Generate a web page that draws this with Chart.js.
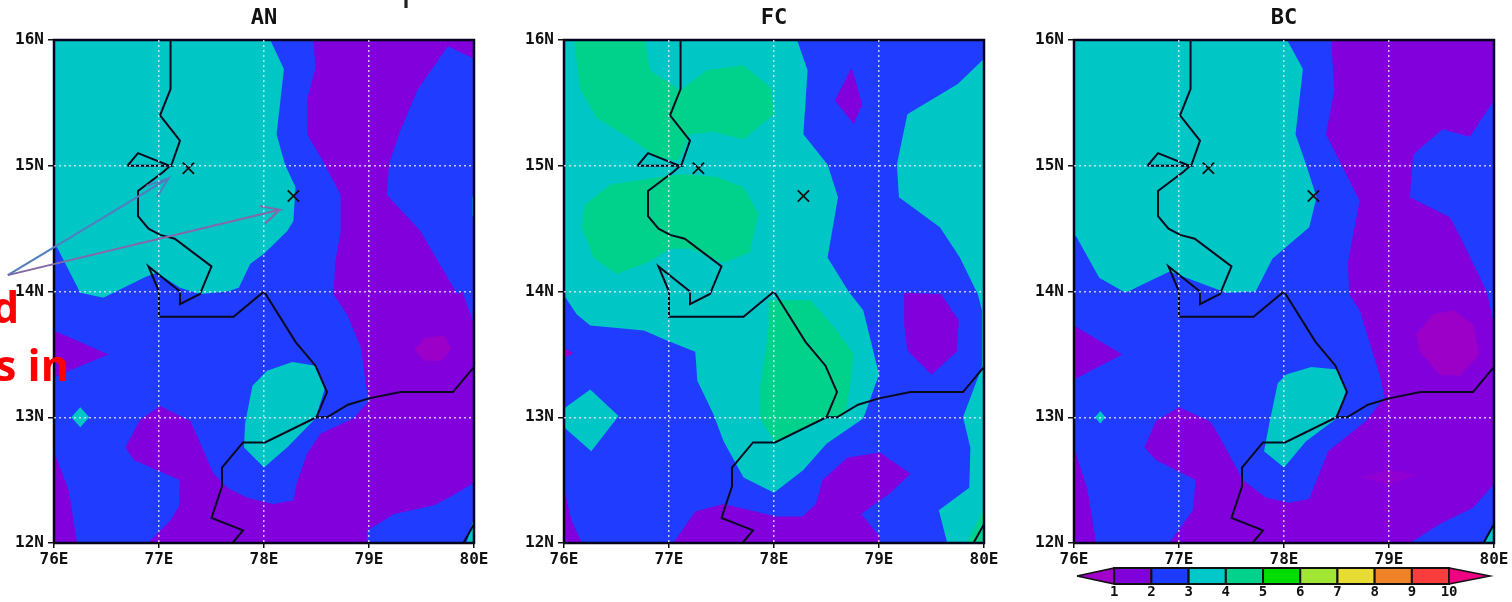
<!DOCTYPE html>
<html>
<head>
<meta charset="utf-8">
<title>AN FC BC</title>
<script src="https://cdn.jsdelivr.net/npm/chart.js@4"></script>
<style>
  html, body { margin: 0; padding: 0; background: #fff; width: 1512px; height: 602px; overflow: hidden; }
  canvas { position: absolute; top: 0; filter: blur(0.6px); }
  .txt { position: absolute; white-space: nowrap; }
  #tituloTop { left: 320px; top: -33px; font: 36px "Liberation Sans"; color: #222; filter: blur(0.6px); }
  .rojo { font: bold 43px "Open Sans"; color: #f00; line-height: 48px; }
</style>
</head>
<body>
<canvas id="panelAN" width="500" height="602" style="left:0"></canvas>
<canvas id="panelFC" width="500" height="602" style="left:510px"></canvas>
<canvas id="panelBC" width="492" height="602" style="left:1020px"></canvas>
<canvas id="barra" width="442" height="42" style="left:1070px;top:560px"></canvas>
<div class="txt" id="tituloTop">Precipitation</div>
<div class="txt rojo" style="left:-8px;top:283px">d</div>
<div class="txt rojo" style="left:-5px;top:341px">s in</div>
<script>
// Colores de la escala
const azul = '#1f3cff', purpura = '#8200dc', magenta = '#9c00c8', teal = '#00c6c6', verde = '#00d28c';

// Ejes
const lonTicks = [76, 77, 78, 79, 80];
const latTicks = [12, 13, 14, 15, 16];

// Estaciones (x)
const estaciones = [[77.28, 14.98], [78.28, 14.76]];

// Costas y fronteras, igual en los tres paneles
const frontera1 = [[77.11,16],[77.11,15.61],[77.01,15.4],[77.2,15.2],[77.12,15.01],[77.04,14.95],[76.8,14.8],[76.8,14.6],[76.9,14.5],[77.01,14.45],[77.15,14.42],[77.5,14.2],[77.39,13.98],[77.2,13.9],[77.2,14],[76.9,14.2],[77,14],[77,13.8],[77.71,13.8],[78,14],[78.3,13.6],[78.49,13.41],[78.6,13.2],[78.5,13],[78.01,12.8],[77.8,12.8],[77.6,12.6],[77.6,12.45],[77.5,12.2],[77.8,12.1],[77.7,12]];
const frontera2 = [[76.7,15],[76.8,15.1],[77.1,15],[76.7,15]];
const frontera3 = [[78.5,13],[78.6,13],[78.8,13.1],[79,13.15],[79.3,13.2],[79.8,13.2],[80,13.4]];
const frontera4 = [[80,12.15],[79.9,12]];

// Flechas del panel AN
const flecha1 = [[75.56,14.13],[77.09,14.9],[76.98,14.75],[77.09,14.9],[76.88,14.84]];
const flecha2 = [[75.56,14.13],[78.15,14.65],[77.96,14.68],[78.15,14.65],[78.01,14.54]];

// Panel AN
const anPurpura = [[78.47,16],[78.49,15.78],[78.41,15.52],[78.41,15.25],[78.54,15.07],[78.73,14.77],[78.73,14.48],[78.68,14.24],[78.66,13.98],[78.79,13.82],[78.92,13.56],[78.98,13.21],[79.01,13.14],[78.85,12.99],[78.54,12.87],[78.41,12.71],[78.31,12.47],[78.28,12.34],[78.09,12.31],[77.84,12.36],[77.65,12.44],[77.52,12.55],[77.3,12.97],[77.01,13.09],[76.82,12.98],[76.68,12.76],[76.76,12.66],[77.2,12.5],[77.19,12.29],[77.11,12.18],[76.92,12.02],[76.88,12],[78.98,12],[78.98,12.1],[79.24,12.23],[79.62,12.3],[79.78,12.37],[80,12.48],[80,13.74],[79.89,14],[79.84,13.98],[79.49,14.48],[79.17,14.77],[79.19,15.01],[79.3,15.28],[79.46,15.6],[79.75,15.95],[80,15.85],[80,16]];
const anPurpuraIzq1 = [[76,13.69],[76.52,13.5],[76,13.32]];
const anPurpuraIzq2 = [[76,12.73],[76.14,12.42],[76.22,12],[76,12]];
const anMagenta = [[79.43,13.54],[79.53,13.63],[79.72,13.65],[79.78,13.54],[79.69,13.45],[79.53,13.45]];
const anTeal1 = [[78.06,16],[78.19,15.77],[78.12,15.25],[78.2,15.01],[78.3,14.83],[78.28,14.56],[78.22,14.48],[78,14.3],[77.87,14.22],[77.76,14.03],[77.65,14],[77.39,13.98],[77.2,14.03],[76.98,14.15],[76.88,14.12],[76.47,13.95],[76.25,13.99],[76.03,14.35],[76,14.36],[76,16]];
const anTeal2 = [[78.27,13.44],[78.49,13.41],[78.58,13.23],[78.49,12.99],[78.22,12.76],[78,12.6],[77.81,12.76],[77.82,12.95],[77.89,13.25],[78.03,13.37]];
const anTeal3 = [[76.25,13.08],[76.335,13],[76.25,12.92],[76.165,13]];
const anTeal4 = [[80,12.2],[79.93,12],[80,12]];
const anTeal5 = [[80,14.78],[79.985,14.75],[79.985,14.6],[80,14.58]];

// Panel FC
const fcTeal1 = [[76,16],[78.22,16],[78.32,15.76],[78.28,15.25],[78.51,15.01],[78.61,14.75],[78.51,14.27],[78.71,14],[78.85,13.85],[79,13.34],[78.85,12.99],[78.5,12.79],[78.28,12.58],[78,12.4],[77.71,12.52],[77.52,12.81],[77.42,13.03],[77.27,13.29],[77.25,13.52],[76.98,13.61],[76.76,13.69],[76.25,13.73],[76.12,13.82],[76,13.97]];
const fcTeal2 = [[80,15.85],[79.75,15.65],[79.27,15.41],[79.17,15.01],[79.19,14.75],[79.58,14.51],[79.77,14.27],[79.94,13.98],[79.98,13.85],[79.98,13.4],[79.8,13],[79.87,12.76],[79.86,12.44],[79.57,12.26],[79.65,12],[80,12]];
const fcTeal3 = [[76.25,13.22],[76.52,13.01],[76.26,12.73],[76,12.92],[76,13.07]];
const fcVerde1 = [[76.1,16],[76.77,16],[76.82,15.76],[77.11,15.6],[77.36,15.76],[77.71,15.8],[77.97,15.62],[78,15.41],[77.71,15.21],[77.42,15.27],[77.2,15.25],[77.09,15.04],[76.88,15.07],[76.66,15.2],[76.31,15.38],[76.15,15.62]];
const fcVerde2 = [[77.08,14.93],[76.44,14.85],[76.2,14.69],[76.17,14.51],[76.28,14.27],[76.5,14.14],[76.82,14.24],[77.01,14.34],[77.2,14.34],[77.52,14.23],[77.77,14.31],[77.85,14.62],[77.71,14.83],[77.46,14.91],[77.2,14.93]];
const fcVerde3 = [[77.95,13.93],[78.35,13.93],[78.6,13.69],[78.76,13.5],[78.7,13.1],[78.66,13.01],[78.5,13],[78.01,12.8],[77.87,12.99],[77.87,13.24],[77.95,13.72]];
const fcVerde4 = [[80,12.28],[79.84,12],[80,12]];
const fcPurpura1 = [[78.74,15.78],[78.84,15.49],[78.76,15.33],[78.58,15.52]];
const fcPurpura2 = [[79.24,13.99],[79.59,13.98],[79.76,13.77],[79.74,13.52],[79.5,13.34],[79.27,13.53],[79.24,13.74]];
const fcPurpura3 = [[77.04,12],[77.25,12.25],[77.52,12.31],[78.02,12.21],[78.27,12.21],[78.4,12.31],[78.46,12.5],[78.7,12.68],[79.01,12.72],[79.3,12.55],[79.11,12.4],[78.83,12.23],[79.01,12.05],[79.01,12]];
const fcPurpura4 = [[76,12.44],[76.07,12.18],[76.17,12],[76,12]];
const fcMagenta = [[76,13.55],[76.09,13.51],[76,13.47]];

// Panel BC
const bcPurpura = [[78.45,16],[78.48,15.6],[78.4,15.25],[78.72,14.72],[78.61,14.24],[78.62,13.98],[78.72,13.85],[78.91,13.34],[78.96,13.16],[78.78,12.97],[78.42,12.73],[78.24,12.35],[78.05,12.32],[77.83,12.36],[77.61,12.5],[77.35,12.9],[77.29,12.97],[77,13.08],[76.78,12.97],[76.67,12.76],[76.78,12.66],[77.16,12.5],[77.13,12.26],[76.91,12],[79.2,12],[79.48,12.15],[79.8,12.28],[80,12.47],[80,13.74],[79.93,14],[79.7,14.4],[79.58,14.59],[79.2,14.75],[79.23,15.09],[79.51,15.29],[79.77,15.23],[80,15.52],[80,16]];
const bcPurpuraIzq1 = [[76,13.73],[76.46,13.5],[76,13.3]];
const bcPurpuraIzq2 = [[76,12.76],[76.13,12.42],[76.21,12],[76,12]];
const bcMagenta1 = [[79.26,13.66],[79.42,13.82],[79.61,13.85],[79.8,13.74],[79.86,13.5],[79.67,13.33],[79.48,13.34],[79.29,13.53]];
const bcMagenta2 = [[78.72,12.52],[79,12.58],[79.27,12.54],[79,12.47]];
const bcTeal1 = [[78.03,16],[78.18,15.77],[78.11,15.25],[78.21,15.01],[78.31,14.75],[78.24,14.51],[77.89,14.26],[77.73,14],[77.45,13.99],[76.91,14.16],[76.49,13.99],[76.24,14.11],[76.02,14.44],[76,14.44],[76,16]];
const bcTeal2 = [[78.26,13.4],[78.51,13.38],[78.59,13.21],[78.5,12.99],[78.21,12.81],[78,12.6],[77.81,12.73],[77.86,12.95],[77.94,13.27],[78.02,13.34]];
const bcTeal3 = [[76.25,13.05],[76.3,13],[76.25,12.95],[76.2,13]];
const bcTeal4 = [[80,12.15],[79.91,12],[80,12]];

// Barra de colores
const barraNiveles = [1, 2, 3, 4, 5, 6, 7, 8, 9, 10];
const barraColores = ['#a000c8', '#8200dc', '#1e3cff', '#00c8c8', '#00d28c', '#00dc00', '#a0e632', '#e6dc32', '#f08228', '#fa3c3c', '#f00082'];

const fuenteEje = { family: 'DejaVu Sans Mono', size: 16, weight: 'bold' };

function aPuntos(lista) {
    return lista.map(p => ({ x: p[0], y: p[1] }));
}

// Poligono relleno
function poligono(lista, color, borde, ancho) {
    const puntos = aPuntos(lista);
    puntos.push(puntos[0]);
    return {
        data: puntos, showLine: true, fill: 'shape', backgroundColor: color,
        borderColor: borde || color, borderWidth: ancho || 0, pointRadius: 0, tension: 0, clip: false
    };
}

// Linea sin relleno
function linea(lista, color, ancho) {
    return {
        data: aPuntos(lista), showLine: true, fill: false, borderColor: color,
        borderWidth: ancho, pointRadius: 0, tension: 0, clip: false
    };
}

function crearPanel(id, titulo, capas, padDer) {
    const lineas = [frontera1, frontera2, frontera3, frontera4].map(f => linea(f, '#0a0a1e', 2));
    const marco = linea([[76,12],[76,16],[80,16],[80,12],[76,12]], '#04041e', 2.5);
    const marcas = {
        data: aPuntos(estaciones), showLine: false, pointStyle: 'crossRot', pointRadius: 8,
        pointBorderColor: '#111', pointBorderWidth: 1.8, clip: false
    };
    const base = poligono([[76,12],[76,16],[80,16],[80,12]], azul);
    const lista = [base].concat(capas.map(c => poligono(c[0], c[1])), lineas, [marcas, marco]);
    if (id === 'panelAN') {
        lista.push(linea(flecha1, '#4f7fbd', 2));
        lista.push(linea(flecha2, '#8468a8', 2));
    }
    // primero en la lista se pinta primero
    lista.forEach((d, i) => { d.order = lista.length - i; });

    new Chart(document.getElementById(id), {
        type: 'scatter',
        data: { datasets: lista },
        options: {
            responsive: false,
            animation: false,
            layout: { padding: { right: padDer, left: 0, top: 0, bottom: 0 } },
            plugins: {
                legend: { display: false },
                tooltip: { enabled: false },
                title: {
                    display: true, text: titulo, color: '#111', fullSize: false,
                    font: { family: 'DejaVu Sans Mono', size: 22, weight: 'bold', lineHeight: 1.2 },
                    padding: { top: 5, bottom: 8.6 }
                }
            },
            scales: {
                x: {
                    type: 'linear', min: lonTicks[0], max: lonTicks[lonTicks.length - 1],
                    afterFit: s => { s.height = 59; s.paddingLeft = 0; s.paddingRight = 0; },
                    ticks: { stepSize: 1, maxRotation: 0, color: '#111', font: fuenteEje, padding: 2, callback: v => v + 'E' },
                    grid: {
                        z: 1, lineWidth: 1.5, tickLength: 5, tickColor: '#111', tickBorderDash: [],
                        color: c => (c.tick && (c.tick.value === 76 || c.tick.value === 80)) ? 'rgba(0,0,0,0)' : 'rgba(240,235,255,0.8)'
                    },
                    border: { display: false, dash: [2, 3] }
                },
                y: {
                    type: 'linear', min: latTicks[0], max: latTicks[latTicks.length - 1],
                    afterFit: s => { s.width = 54; s.paddingTop = 0; s.paddingBottom = 0; },
                    ticks: { stepSize: 1, color: '#111', font: fuenteEje, padding: 4, callback: v => v + 'N' },
                    grid: {
                        z: 1, lineWidth: 1.5, tickLength: 6, tickColor: '#111', tickBorderDash: [],
                        color: c => (c.tick && (c.tick.value === 12 || c.tick.value === 16)) ? 'rgba(0,0,0,0)' : 'rgba(240,235,255,0.8)'
                    },
                    border: { display: false, dash: [2, 3] }
                }
            }
        }
    });
}

function crearBarra() {
    const n = barraNiveles.length;
    const ini = barraNiveles[0], fin = barraNiveles[n - 1];
    const lista = [];
    lista.push(poligono([[0, 0.5], [ini, 1], [ini, 0]], barraColores[0], '#111', 1.5));
    for (let i = 0; i < n - 1; i++) {
        const a = barraNiveles[i], b = barraNiveles[i + 1];
        lista.push(poligono([[a, 0], [a, 1], [b, 1], [b, 0]], barraColores[i + 1], '#111', 2));
    }
    lista.push(poligono([[fin, 0], [fin, 1], [11.1, 0.5]], barraColores[n], '#111', 1.5));
    lista.forEach((d, i) => { d.order = lista.length - i; });

    new Chart(document.getElementById('barra'), {
        type: 'scatter',
        data: { datasets: lista },
        options: {
            responsive: false,
            animation: false,
            layout: { padding: { left: 7, right: 22, top: 8, bottom: 0 } },
            plugins: { legend: { display: false }, tooltip: { enabled: false } },
            scales: {
                x: {
                    type: 'linear', min: 0, max: 11.1,
                    afterFit: s => { s.height = 18; s.paddingLeft = 0; s.paddingRight = 0; },
                    ticks: {
                        stepSize: 1, maxRotation: 0, autoSkip: false, color: '#111', padding: 0,
                        font: { family: 'DejaVu Sans Mono', size: 14, weight: 'bold' },
                        callback: v => barraNiveles.includes(v) ? String(v) : ''
                    },
                    grid: { display: false, drawTicks: false },
                    border: { display: false }
                },
                y: { display: false, min: 0, max: 1 }
            }
        }
    });
}

crearPanel('panelAN', 'AN', [
    [anPurpura, purpura], [anPurpuraIzq1, purpura], [anPurpuraIzq2, purpura], [anMagenta, magenta],
    [anTeal1, teal], [anTeal2, teal], [anTeal3, teal], [anTeal4, teal], [anTeal5, teal]
], 26);
crearPanel('panelFC', 'FC', [
    [fcTeal1, teal], [fcTeal2, teal], [fcTeal3, teal], [fcVerde1, verde], [fcVerde2, verde], [fcVerde3, verde], [fcVerde4, verde],
    [fcPurpura1, purpura], [fcPurpura2, purpura], [fcPurpura3, purpura], [fcPurpura4, purpura], [fcMagenta, magenta]
], 26);
crearPanel('panelBC', 'BC', [
    [bcPurpura, purpura], [bcPurpuraIzq1, purpura], [bcPurpuraIzq2, purpura], [bcMagenta1, magenta], [bcMagenta2, '#9000d2'],
    [bcTeal1, teal], [bcTeal2, teal], [bcTeal3, teal], [bcTeal4, teal]
], 18);
crearBarra();
</script>
</body>
</html>
